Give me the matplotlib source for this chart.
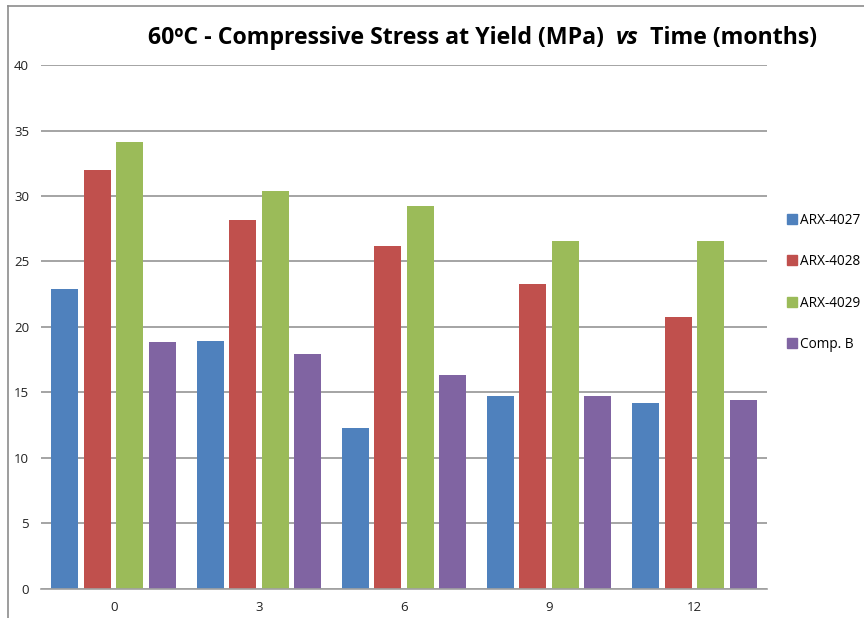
import matplotlib
matplotlib.use('Agg')
import matplotlib.pyplot as plt
import numpy as np
from matplotlib.lines import Line2D

months = ['0', '3', '6', '9', '12']
series = ['ARX-4027', 'ARX-4028', 'ARX-4029', 'Comp. B']
arx4027 = [22.9, 18.9, 12.3, 14.7, 14.2]
arx4028 = [32.0, 28.2, 26.2, 23.3, 20.8]
arx4029 = [34.1, 30.4, 29.2, 26.6, 26.6]
compb = [18.85, 17.9, 16.3, 14.7, 14.4]
colors = ['#4F81BD', '#C0504D', '#9BBB59', '#8064A2']

plt.rcParams['font.family'] = ['Open Sans', 'DejaVu Sans']

fig = plt.figure(figsize=(8.64, 6.18), dpi=100)
ax = fig.add_axes([0.0475, 0.047, 0.8402, 0.8478])

x = np.arange(len(months))
width = 0.186
step = 0.224
for i, (vals, col) in enumerate(zip([arx4027, arx4028, arx4029, compb], colors)):
    ax.bar(x + (i - 1.5) * step, vals, width, color=col, zorder=3, label=series[i])

ax.set_xlim(-0.5, len(months) - 0.5)
ax.set_ylim(0, 40)
ax.set_yticks(range(0, 41, 5))
ax.set_xticks(x)
ax.set_xticklabels(months)
ax.tick_params(axis='both', length=0, labelsize=9.5, colors='#222222')
ax.tick_params(axis='x', pad=9)
ax.tick_params(axis='y', pad=8.6)
ax.yaxis.grid(True, color='#8c8c8c', linewidth=1.1, zorder=0)
for s in ['left', 'right', 'top']:
    ax.spines[s].set_visible(False)
ax.spines['bottom'].set_color('#a0a0a0')
ax.spines['bottom'].set_linewidth(1.2)
ax.spines['bottom'].set_zorder(4)

handles = [Line2D([], [], marker='s', linestyle='none', markersize=7,
                  markerfacecolor=c, markeredgecolor=c) for c in colors]
fig.legend(handles, series, loc='upper left', bbox_to_anchor=(0.905, 0.667),
           frameon=False, fontsize=9.8, handlelength=0.5, handletextpad=0.3,
           labelspacing=1.95, borderpad=0)

# title in three pieces so that "vs" can be italic
t1 = fig.text(0.171, 0.929, '60ºC - Compressive Stress at Yield (MPa)  ',
              fontsize=16.7, fontweight='bold', va='baseline', ha='left')
t2 = ax.annotate('vs', xy=(1, 0), xycoords=t1, va='bottom', ha='left',
                 fontsize=16.7, fontweight='bold', style='italic')
t3 = ax.annotate('  Time (months)', xy=(1, 0), xycoords=t2, va='bottom', ha='left',
                 fontsize=16.7, fontweight='bold')

# chart area border (top and left edges)
fig.add_artist(Line2D([0.0093, 0.0093], [0, 0.99], transform=fig.transFigure,
                      color='#8c8c8c', linewidth=1.2))
fig.add_artist(Line2D([0.0093, 1.0], [0.99, 0.99], transform=fig.transFigure,
                      color='#8c8c8c', linewidth=1.2))

fig.savefig('out.png', dpi=100)
